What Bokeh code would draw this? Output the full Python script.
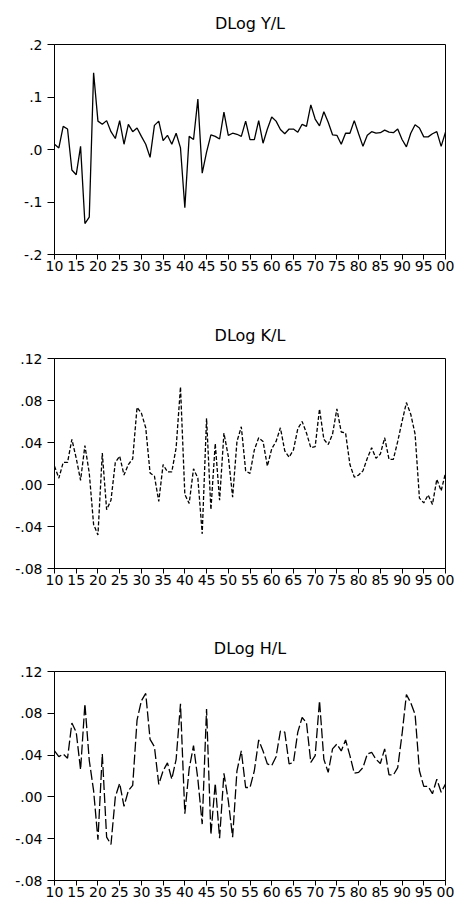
from bokeh.plotting import figure
from bokeh.layouts import column
from bokeh.models import Range1d, FixedTicker, CustomJSTickFormatter
from bokeh.embed import file_html
from bokeh.resources import INLINE

years = list(range(1910, 2001))

dlog_yl = [
    0.010, 0.003, 0.044, 0.039, -0.039, -0.048, 0.006, -0.141, -0.129, 0.146,
    0.054, 0.048, 0.055, 0.034, 0.021, 0.055, 0.010, 0.048, 0.034, 0.041,
    0.025, 0.010, -0.015, 0.046, 0.054, 0.017, 0.027, 0.010, 0.031, 0.003,
    -0.111, 0.025, 0.019, 0.096, -0.045, -0.005, 0.028, 0.025, 0.020, 0.071,
    0.027, 0.031, 0.029, 0.025, 0.054, 0.019, 0.019, 0.055, 0.012, 0.039,
    0.062, 0.054, 0.038, 0.030, 0.039, 0.039, 0.033, 0.048, 0.044, 0.085,
    0.058, 0.045, 0.072, 0.052, 0.028, 0.027, 0.010, 0.031, 0.031, 0.055,
    0.030, 0.006, 0.027, 0.034, 0.031, 0.032, 0.037, 0.033, 0.032, 0.039,
    0.019, 0.005, 0.031, 0.047, 0.041, 0.024, 0.024, 0.030, 0.034, 0.006,
    0.033,
]

dlog_kl = [
    0.0175, 0.006, 0.021, 0.021, 0.043, 0.025, 0.004, 0.037, 0.011, -0.038,
    -0.048, 0.030, -0.024, -0.015, 0.021, 0.027, 0.009, 0.019, 0.0245, 0.0735,
    0.068, 0.054, 0.011, 0.008, -0.016, 0.019, 0.012, 0.012, 0.035, 0.093,
    -0.0095, -0.018, 0.015, 0.006, -0.047, 0.063, -0.024, 0.039, -0.015, 0.049,
    0.027, -0.012, 0.041, 0.055, 0.013, 0.0105, 0.033, 0.0445, 0.041, 0.0175,
    0.034, 0.041, 0.054, 0.032, 0.026, 0.033, 0.053, 0.060, 0.049, 0.035,
    0.036, 0.072, 0.043, 0.038, 0.048, 0.072, 0.050, 0.049, 0.019, 0.007,
    0.009, 0.013, 0.025, 0.035, 0.025, 0.029, 0.0445, 0.024, 0.024, 0.041,
    0.060, 0.078, 0.067, 0.048, -0.013, -0.0175, -0.010, -0.019, 0.005, -0.006,
    0.011,
]

dlog_hl = [
    0.044, 0.0385, 0.041, 0.037, 0.0707, 0.062, 0.026, 0.089, 0.035, 0.006,
    -0.041, 0.041, -0.0385, -0.0455, 0.000, 0.013, -0.009, 0.006, 0.011, 0.0735,
    0.092, 0.099, 0.055, 0.048, 0.012, 0.025, 0.0325, 0.017, 0.036, 0.089,
    -0.016, 0.027, 0.049, 0.017, -0.026, 0.084, -0.036, 0.013, -0.0395, 0.0226,
    -0.0035, -0.0385, 0.025, 0.044, 0.009, 0.009, 0.025, 0.0545, 0.044, 0.0315,
    0.030, 0.0385, 0.063, 0.062, 0.0315, 0.033, 0.062, 0.076, 0.071, 0.033,
    0.0395, 0.092, 0.036, 0.0235, 0.046, 0.0506, 0.044, 0.0545, 0.0395, 0.0226,
    0.0235, 0.028, 0.041, 0.0427, 0.036, 0.032, 0.046, 0.021, 0.021, 0.028,
    0.060, 0.098, 0.090, 0.079, 0.025, 0.010, 0.010, 0.003, 0.017, 0.0045,
    0.0124,
]

titles = ["DLog Y/L", "DLog K/L", "DLog H/L"]
y_ticks_1 = [-0.2, -0.1, 0.0, 0.1, 0.2]
y_ticks_23 = [-0.08, -0.04, 0.0, 0.04, 0.08, 0.12]
x_ticks = list(range(1910, 2001, 5))

FONT = "DejaVu Sans"


def make_fig(title, vals, yr, yticks, decimals, dash, height, top, bottom, standoff):
    p = figure(width=455, height=height,
               x_range=Range1d(1910, 2000), y_range=Range1d(*yr),
               output_backend="svg", toolbar_location=None,
               min_border_left=54, min_border_right=10,
               min_border_top=top, min_border_bottom=bottom)
    p.title.text = title
    p.title.align = "center"
    p.title.text_font = FONT
    p.title.text_font_size = "16px"
    p.title.text_font_style = "normal"
    p.title.text_color = "black"
    p.title.standoff = standoff
    p.outline_line_color = "black"
    p.outline_line_width = 1
    p.outline_line_alpha = 1
    p.grid.visible = False
    p.background_fill_color = "white"
    p.border_fill_color = "white"

    p.xaxis.ticker = FixedTicker(ticks=x_ticks)
    p.xaxis.formatter = CustomJSTickFormatter(
        code="return String(Math.round(tick) % 100).padStart(2, '0');")
    p.yaxis.ticker = FixedTicker(ticks=yticks)
    p.yaxis.formatter = CustomJSTickFormatter(
        code="var s = tick.toFixed(%d); return s.replace(/^(-?)0\\./, '$1.');" % decimals)
    for ax in (p.xaxis[0], p.yaxis[0]):
        ax.major_tick_in = 0
        ax.minor_tick_in = 0
        ax.minor_tick_out = 0
        ax.axis_line_color = "black"
        ax.major_tick_line_color = "black"
        ax.major_label_text_font = FONT
        ax.major_label_text_font_size = "14px"
        ax.major_label_text_color = "black"
    p.xaxis.major_tick_out = 5
    p.xaxis.major_label_standoff = 1
    p.yaxis.major_tick_out = 7
    p.yaxis.major_label_standoff = 5

    p.line(years, vals, line_color="black", line_width=1.3, line_dash=dash)
    return p


p1 = make_fig(titles[0], dlog_yl, (-0.2, 0.2), y_ticks_1, 1, "solid", 310, 44, 56, 23)
p2 = make_fig(titles[1], dlog_kl, (-0.08, 0.12), y_ticks_23, 2, "4 2", 313, 48, 55, 27)
p3 = make_fig(titles[2], dlog_hl, (-0.08, 0.12), y_ticks_23, 2, "10 3", 276, 48, 18, 27)

layout = column(p1, p2, p3, spacing=0)

open("out.html", "w").write(file_html(layout, INLINE))
